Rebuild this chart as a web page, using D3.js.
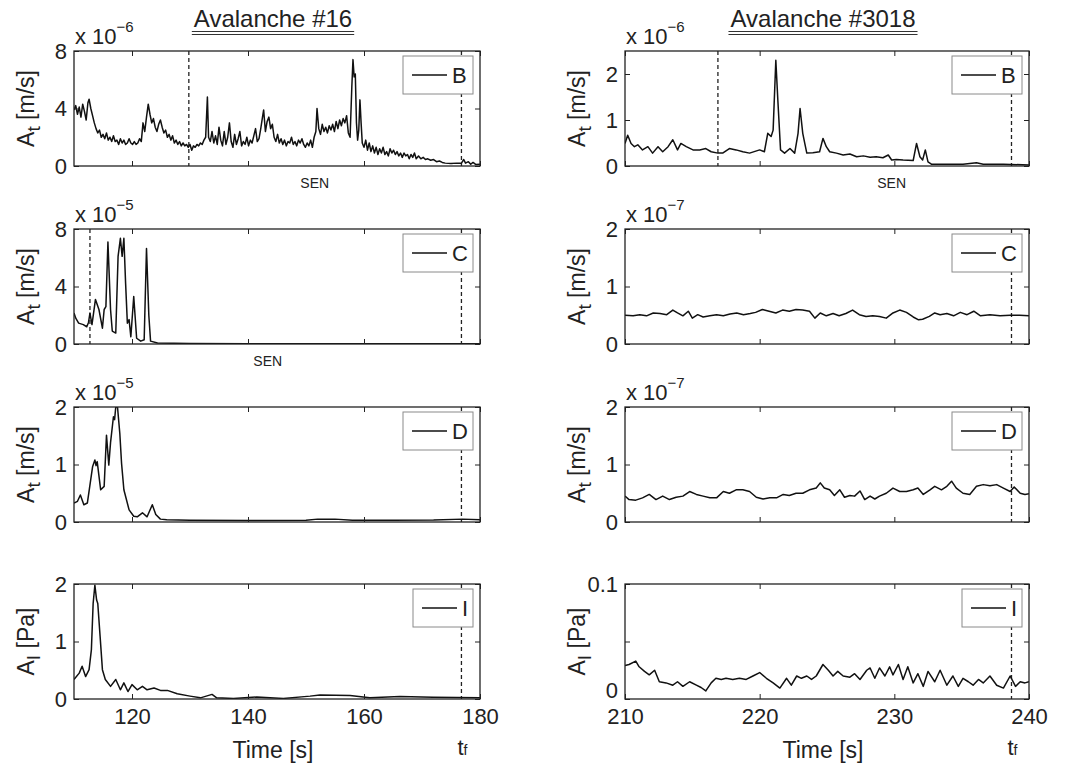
<!DOCTYPE html>
<html>
<head>
<meta charset="utf-8">
<script src="https://cdn.jsdelivr.net/npm/d3@7"></script>
<style>
  body { margin: 0; background: #fff; }
  svg { font-family: "Liberation Sans", Arial, Helvetica, sans-serif; }
</style>
</head>
<body>
<svg id="chart" width="1073" height="772"></svg>
<script>
// ---- data ----
// [time (s), amplitude in the unit shown on the axis]
const b16 = [[110,3.9],[110.3,4.2],[110.6,3.6],[110.9,4.1],[111.2,3.4],[111.5,4.3],[111.8,3.8],[112.1,3.2],[112.4,4.4],[112.6,4.65],[112.9,4.0],[113.2,3.5],[113.5,3.0],[113.8,2.6],[114.1,2.3],[114.4,2.5],[114.7,2.0],[115,2.2],[115.3,1.9],[115.6,2.3],[115.9,1.8],[116.2,2.0],[116.5,1.7],[116.8,2.1],[117.1,1.7],[117.4,1.8],[117.7,1.5],[118,1.9],[118.3,1.6],[118.6,1.8],[118.9,1.5],[119.2,1.6],[119.5,1.9],[119.8,1.6],[120.1,1.5],[120.4,1.7],[120.7,1.5],[121,1.6],[121.3,1.9],[121.6,1.7],[121.9,3.0],[122.2,2.4],[122.5,3.4],[122.8,4.3],[123.1,3.6],[123.4,3.0],[123.7,3.3],[124,2.7],[124.3,2.4],[124.6,2.9],[124.9,3.2],[125.2,2.7],[125.5,2.3],[125.8,2.5],[126.1,2.0],[126.4,2.2],[126.7,1.8],[127,2.1],[127.3,1.6],[127.6,1.8],[127.9,1.5],[128.2,1.7],[128.5,1.4],[128.8,1.6],[129.1,1.4],[129.4,1.5],[129.7,1.3],[130,1.5],[130.3,1.1],[130.6,1.4],[130.9,1.3],[131.2,1.5],[131.5,1.4],[131.8,1.6],[132.1,1.5],[132.4,1.8],[132.7,2.0],[133,4.8],[133.2,2.0],[133.5,1.7],[133.8,2.4],[134.1,1.6],[134.4,2.1],[134.7,1.5],[135,2.7],[135.3,1.8],[135.6,1.4],[135.9,2.4],[136.2,1.5],[136.5,2.0],[136.8,3.0],[137.1,1.7],[137.4,1.3],[137.7,2.2],[138,1.5],[138.3,1.9],[138.6,2.4],[138.9,1.4],[139.2,1.7],[139.5,1.5],[139.8,2.0],[140.1,1.4],[140.4,1.8],[140.7,1.6],[141,2.1],[141.3,2.6],[141.6,1.7],[141.9,1.9],[142.2,2.6],[142.5,3.4],[142.7,3.9],[143,2.4],[143.3,3.1],[143.6,3.4],[143.9,2.6],[144.2,2.9],[144.5,2.0],[144.8,1.7],[145.1,2.2],[145.4,1.6],[145.7,1.9],[146,1.5],[146.3,1.8],[146.6,1.4],[146.9,1.7],[147.2,1.6],[147.5,2.0],[147.8,1.5],[148.1,1.7],[148.4,1.4],[148.7,1.8],[149,1.6],[149.3,1.9],[149.6,1.5],[149.9,1.3],[150.2,1.6],[150.5,1.4],[150.8,1.8],[151.1,1.3],[151.4,2.0],[151.7,2.4],[151.9,4.0],[152.2,2.6],[152.5,2.2],[152.8,2.9],[153.1,2.4],[153.4,2.7],[153.7,2.3],[154,2.8],[154.3,2.5],[154.6,2.9],[154.9,2.4],[155.2,3.1],[155.5,2.6],[155.8,3.2],[156.1,2.8],[156.4,3.3],[156.7,3.0],[157,3.5],[157.3,2.3],[157.6,2.0],[157.9,5.5],[158.1,7.4],[158.3,6.2],[158.5,6.4],[158.7,3.0],[158.9,1.8],[159.1,2.5],[159.3,4.6],[159.5,3.0],[159.7,1.6],[160,1.3],[160.3,1.8],[160.6,1.1],[160.9,1.6],[161.2,1.0],[161.5,1.4],[161.8,0.9],[162.1,1.3],[162.4,0.8],[162.7,1.2],[163,0.9],[163.3,1.3],[163.6,0.8],[163.9,1.0],[164.2,0.7],[164.5,1.2],[164.8,0.9],[165.1,1.1],[165.4,0.8],[165.7,1.0],[166,0.7],[166.3,0.9],[166.6,0.6],[166.9,0.9],[167.2,0.7],[167.5,0.8],[167.8,0.5],[168.1,0.8],[168.4,0.6],[168.7,0.9],[169,0.5],[169.4,0.7],[169.8,0.5],[170.2,0.6],[170.6,0.45],[171,0.5],[171.5,0.4],[172,0.45],[172.5,0.3],[173,0.35],[173.5,0.25],[174,0.2],[175,0.18],[176,0.2],[176.8,0.2],[177.2,0.45],[177.5,0.2],[178,0.3],[178.4,0.12],[178.8,0.25],[179.3,0.1],[180,0.12]];
const c16 = [[110,2.15],[110.3,1.8],[110.8,1.45],[111.6,1.35],[112.2,1.2],[112.5,1.5],[112.75,2.15],[113.1,1.35],[113.7,3.1],[114.3,2.4],[114.9,1.1],[115.2,2.4],[115.5,2.6],[115.85,7.1],[116.3,2.4],[116.6,0.9],[117.2,0.76],[117.6,6.1],[118,7.35],[118.3,6.1],[118.6,7.35],[118.9,4.2],[119.2,1.45],[119.5,1.7],[119.8,0.5],[120.3,3.3],[120.8,0.4],[121.5,0.2],[122.1,0.3],[122.5,6.65],[122.9,2.0],[123.2,0.2],[124.4,0.07],[127.2,0.05],[130,0.03],[140,0.02],[150,0.02],[160,0.015],[170,0.02],[180,0.02]];
const d16 = [[110,0.33],[110.6,0.36],[111.1,0.47],[111.7,0.3],[112.3,0.33],[113.2,0.96],[113.6,1.08],[113.8,0.98],[114,1.05],[114.6,0.56],[115.2,0.62],[115.6,1.51],[116,0.99],[116.3,1.38],[116.8,1.83],[117,1.78],[117.2,2.0],[117.5,2.0],[117.9,1.54],[118.2,1.02],[118.6,0.56],[119.5,0.21],[120.3,0.1],[120.9,0.09],[121.8,0.16],[122.6,0.09],[123.5,0.3],[124.1,0.13],[124.9,0.05],[126,0.04],[130,0.03],[140,0.025],[150,0.03],[152,0.05],[155,0.05],[158,0.03],[165,0.03],[172,0.035],[177,0.05],[180,0.04]];
const i16 = [[110,0.34],[110.9,0.45],[111.4,0.57],[112,0.39],[112.6,0.51],[113,0.86],[113.3,1.66],[113.6,1.98],[113.9,1.72],[114.1,1.66],[114.5,1.09],[114.9,0.51],[115.4,0.34],[116.3,0.22],[117.2,0.34],[118,0.16],[118.6,0.28],[119.3,0.13],[120,0.25],[120.9,0.16],[121.8,0.22],[122.6,0.16],[123.8,0.19],[124.9,0.15],[126.1,0.15],[127.8,0.09],[130,0.05],[131.8,0.02],[133.8,0.08],[134.6,0.02],[137.5,0.01],[141.5,0.035],[146.1,0.01],[150.7,0.05],[152.4,0.07],[157.6,0.06],[161,0.02],[166.2,0.045],[171.9,0.03],[180,0.02]];

const b3018 = [[210,0.49],[210.2,0.67],[210.45,0.49],[210.7,0.42],[210.95,0.46],[211.3,0.35],[211.7,0.42],[212.05,0.28],[212.45,0.42],[212.8,0.31],[213.2,0.42],[213.55,0.57],[213.9,0.35],[214.15,0.49],[214.55,0.42],[215.05,0.35],[215.55,0.35],[216,0.38],[216.4,0.31],[216.9,0.28],[217.25,0.28],[217.75,0.38],[218.25,0.35],[218.75,0.31],[219.25,0.28],[220,0.35],[220.35,0.31],[220.6,0.71],[220.85,0.64],[221,0.78],[221.2,2.3],[221.35,1.43],[221.55,0.35],[221.85,0.28],[222.25,0.38],[222.6,0.28],[222.85,0.71],[223,1.25],[223.2,0.71],[223.35,0.49],[223.5,0.28],[223.95,0.29],[224.45,0.31],[224.7,0.6],[224.95,0.42],[225.2,0.31],[225.7,0.28],[226.2,0.24],[226.7,0.26],[227.2,0.2],[227.7,0.22],[228.2,0.19],[228.65,0.2],[229.15,0.18],[229.55,0.24],[229.8,0.13],[230.15,0.14],[230.65,0.13],[231.4,0.12],[231.65,0.49],[231.9,0.2],[232.1,0.13],[232.3,0.35],[232.5,0.09],[232.75,0.04],[233.9,0.04],[235.1,0.04],[236.1,0.07],[236.6,0.04],[238.1,0.04],[240,0.02]];
const c3018 = [[210,0.5],[210.6,0.49],[211.1,0.51],[211.6,0.49],[212.1,0.54],[212.6,0.53],[213.1,0.51],[213.55,0.59],[213.9,0.54],[214.3,0.49],[214.7,0.57],[215,0.45],[215.4,0.51],[215.8,0.47],[216.3,0.49],[216.8,0.51],[217.3,0.49],[217.8,0.52],[218.3,0.54],[218.8,0.51],[219.3,0.53],[219.7,0.55],[220.2,0.6],[220.7,0.57],[221.2,0.54],[221.7,0.59],[222.2,0.57],[222.7,0.6],[223.2,0.59],[223.7,0.57],[224.1,0.45],[224.5,0.54],[224.95,0.49],[225.45,0.53],[225.9,0.49],[226.4,0.53],[226.9,0.59],[227.4,0.51],[227.9,0.48],[228.4,0.49],[228.9,0.48],[229.4,0.45],[229.9,0.54],[230.4,0.59],[230.9,0.55],[231.4,0.47],[231.8,0.42],[232.1,0.43],[232.6,0.48],[233,0.54],[233.4,0.51],[233.9,0.53],[234.4,0.49],[234.9,0.55],[235.4,0.51],[235.9,0.57],[236.4,0.49],[237.1,0.51],[237.85,0.49],[238.6,0.5],[239.3,0.5],[240,0.49]];
const d3018 = [[210,0.45],[210.3,0.39],[210.8,0.38],[211.3,0.42],[211.8,0.48],[212.3,0.39],[212.8,0.45],[213.3,0.39],[213.8,0.43],[214.3,0.45],[214.8,0.53],[215.3,0.48],[215.8,0.45],[216.3,0.42],[216.8,0.42],[217.3,0.53],[217.75,0.5],[218.25,0.56],[218.75,0.56],[219.25,0.53],[219.75,0.43],[220.25,0.4],[220.75,0.42],[221.25,0.42],[221.75,0.48],[222.2,0.46],[222.7,0.5],[223.2,0.5],[223.7,0.56],[224.2,0.59],[224.5,0.68],[224.8,0.59],[225.2,0.56],[225.55,0.46],[225.95,0.56],[226.3,0.43],[226.7,0.46],[227.05,0.45],[227.45,0.54],[227.8,0.39],[228.2,0.45],[228.55,0.4],[228.9,0.45],[229.4,0.5],[229.9,0.59],[230.4,0.53],[230.9,0.53],[231.4,0.56],[231.75,0.59],[232.15,0.48],[232.65,0.56],[233,0.62],[233.5,0.56],[233.9,0.62],[234.25,0.71],[234.6,0.59],[235.1,0.5],[235.6,0.48],[236.1,0.62],[236.6,0.65],[237.1,0.63],[237.6,0.65],[238.1,0.59],[238.6,0.53],[238.9,0.61],[239.35,0.5],[239.7,0.48],[240,0.49]];
const i3018 = [[210,0.029],[210.3,0.03],[210.8,0.033],[211.05,0.028],[211.45,0.024],[211.8,0.021],[212.2,0.025],[212.55,0.015],[213.05,0.014],[213.55,0.012],[213.9,0.015],[214.3,0.011],[214.8,0.015],[215.3,0.012],[215.65,0.01],[216,0.007],[216.4,0.014],[216.75,0.018],[217.15,0.017],[217.5,0.018],[218,0.017],[218.5,0.018],[219,0.017],[219.5,0.02],[220,0.023],[220.5,0.018],[221,0.014],[221.5,0.0095],[222,0.018],[222.35,0.012],[222.75,0.02],[223.1,0.018],[223.5,0.02],[223.85,0.017],[224.2,0.02],[224.7,0.03],[225.1,0.025],[225.45,0.02],[225.8,0.024],[226.2,0.02],[226.7,0.019],[227.05,0.022],[227.45,0.017],[227.95,0.025],[228.2,0.027],[228.55,0.018],[228.9,0.027],[229.3,0.02],[229.65,0.028],[229.9,0.021],[230.3,0.03],[230.65,0.017],[231,0.028],[231.4,0.014],[231.75,0.022],[232.15,0.011],[232.5,0.024],[233,0.015],[233.4,0.025],[233.9,0.012],[234.35,0.02],[234.75,0.011],[235.1,0.018],[235.5,0.015],[235.85,0.012],[236.25,0.017],[236.6,0.014],[237.1,0.02],[237.6,0.012],[238.1,0.0095],[238.6,0.02],[239,0.011],[239.35,0.015],[239.7,0.014],[240,0.015]];

// axes / annotations
const titles = ["Avalanche #16", "Avalanche #3018"];
const timeDomain16 = [110, 180], timeDomain3018 = [210, 240];
const timeTicks16 = [120, 140, 160, 180], timeTicks3018 = [210, 220, 230, 240];
const tf16 = 176.8, tf3018 = 238.7;
const dashB16 = [129.8, tf16], dashC16 = [112.75, tf16], dashB3018 = [216.9, tf3018];
const senTimes = { b16: 151.5, c16: 143.4, b3018: 229.8 };

// ---- layout ----
const svg = d3.select("#chart");
const cols = [
  { x0: 74, x1: 480, domain: timeDomain16, ticks: timeTicks16, tf: tf16 },
  { x0: 625, x1: 1029, domain: timeDomain3018, ticks: timeTicks3018, tf: tf3018 }
];
const rowTops = [51, 229, 407, 584];
const ph = 115;

const panels = [
  { col: 0, row: 0, data: b16, yMax: 8, yTicks: [0, 4, 8], exp: "6", name: "B", dashes: dashB16, sen: senTimes.b16 },
  { col: 0, row: 1, data: c16, yMax: 8, yTicks: [0, 4, 8], exp: "5", name: "C", dashes: dashC16, sen: senTimes.c16 },
  { col: 0, row: 2, data: d16, yMax: 2, yTicks: [0, 1, 2], exp: "5", name: "D", dashes: [tf16] },
  { col: 0, row: 3, data: i16, yMax: 2, yTicks: [0, 1, 2], name: "I", dashes: [tf16], pa: true },
  { col: 1, row: 0, data: b3018, yMax: 2.5, yTicks: [0, 1, 2], exp: "6", name: "B", dashes: dashB3018, sen: senTimes.b3018 },
  { col: 1, row: 1, data: c3018, yMax: 2, yTicks: [0, 1, 2], exp: "7", name: "C", dashes: [tf3018] },
  { col: 1, row: 2, data: d3018, yMax: 2, yTicks: [0, 1, 2], exp: "7", name: "D", dashes: [tf3018] },
  { col: 1, row: 3, data: i3018, yMax: 0.1, yTicks: [0, 0.05, 0.1], name: "I", dashes: [tf3018], pa: true, hideMid: true }
];

const tickFont = 22;

panels.forEach((p, k) => {
  const c = cols[p.col];
  const top = rowTops[p.row], bot = top + ph;
  const x = d3.scaleLinear().domain(c.domain).range([c.x0, c.x1]);
  const y = d3.scaleLinear().domain([0, p.yMax]).range([bot, top]);
  const g = svg.append("g");

  g.append("clipPath").attr("id", "clip" + k)
    .append("rect").attr("x", c.x0).attr("y", top).attr("width", c.x1 - c.x0).attr("height", ph);

  // dashed marker lines
  g.selectAll(".dash").data(p.dashes).join("line")
    .attr("x1", d => x(d)).attr("x2", d => x(d))
    .attr("y1", top).attr("y2", bot)
    .attr("stroke", "#222").attr("stroke-width", 1.3)
    .attr("stroke-dasharray", "4,3");

  // signal
  g.append("path")
    .datum(p.data)
    .attr("clip-path", `url(#clip${k})`)
    .attr("fill", "none")
    .attr("stroke", "#111")
    .attr("stroke-width", 1.5)
    .attr("stroke-linejoin", "round")
    .attr("d", d3.line().x(d => x(d[0])).y(d => y(d[1])));

  // axes with inward ticks on all four sides
  const last = p.row === 3;
  const fmtY = d => (p.hideMid && d === 0.05) ? "" : d3.format("~g")(d);
  const left = g.append("g").attr("transform", `translate(${c.x0},0)`)
    .call(d3.axisLeft(y).tickValues(p.yTicks).tickSizeInner(-5).tickSizeOuter(0).tickPadding(7).tickFormat(fmtY));
  const right = g.append("g").attr("transform", `translate(${c.x1},0)`)
    .call(d3.axisRight(y).tickValues(p.yTicks).tickSizeInner(-5).tickSizeOuter(0).tickFormat(""));
  const bottom = g.append("g").attr("transform", `translate(0,${bot})`)
    .call(d3.axisBottom(x).tickValues(c.ticks).tickSizeInner(-5).tickSizeOuter(0).tickPadding(9)
      .tickFormat(last ? d3.format("d") : ""));
  const topAx = g.append("g").attr("transform", `translate(0,${top})`)
    .call(d3.axisTop(x).tickValues(c.ticks).tickSizeInner(-5).tickSizeOuter(0).tickFormat(""));
  [left, right, bottom, topAx].forEach(a => {
    a.select(".domain").remove();
    a.selectAll("line").attr("stroke", "#222");
    a.selectAll("text").attr("font-size", tickFont).attr("fill", "#222").attr("font-family", null);
  });
  // the 0 of the lowest right panel sits just above the 210 label
  if (p.hideMid) left.selectAll(".tick text").filter(d => d === 0).attr("dy", "-0.05em");

  g.append("rect")
    .attr("x", c.x0).attr("y", top).attr("width", c.x1 - c.x0).attr("height", ph)
    .attr("fill", "none").attr("stroke", "#222").attr("stroke-width", 1.3);

  // exponent label
  if (p.exp) {
    const t = g.append("text").attr("x", c.x0 + 1).attr("y", top - 7)
      .attr("font-size", 22).attr("fill", "#222").text("x 10");
    t.append("tspan").attr("dy", -12).attr("font-size", 15).text("\u2212" + p.exp);
  }

  // y label
  const yl = g.append("text")
    .attr("transform", `translate(${c.x0 - 40},${top + ph / 2}) rotate(-90)`)
    .attr("text-anchor", "middle").attr("font-size", 23).attr("fill", "#222");
  yl.append("tspan").text("A");
  yl.append("tspan").attr("dy", 6).attr("font-size", 19).text(p.pa ? "I" : "t");
  yl.append("tspan").attr("dy", -6).text(p.pa ? " [Pa]" : " [m/s]");

  // legend
  const lw = p.name === "I" ? 60 : 70, lh = 38;
  const lx = c.x1 - 7 - lw, ly = top + 5;
  const lg = g.append("g").attr("transform", `translate(${lx},${ly})`);
  lg.append("rect").attr("width", lw).attr("height", lh)
    .attr("fill", "#fff").attr("stroke", "#8a8a8a").attr("stroke-width", 1);
  lg.append("line").attr("x1", 9).attr("x2", 44).attr("y1", lh / 2).attr("y2", lh / 2)
    .attr("stroke", "#111").attr("stroke-width", 1.3);
  lg.append("text").attr("x", 49).attr("y", lh / 2 + 8)
    .attr("font-size", 22).attr("fill", "#222").text(p.name);

  // SEN annotation
  if (p.sen) {
    g.append("text").attr("x", x(p.sen)).attr("y", bot + 22)
      .attr("text-anchor", "middle").attr("font-size", 14).attr("fill", "#222").text("SEN");
  }

  if (last) {
    g.append("text").attr("x", (c.x0 + c.x1) / 2 - 4).attr("y", 758)
      .attr("text-anchor", "middle").attr("font-size", 23).attr("fill", "#222").text("Time [s]");
    const tf = g.append("text").attr("x", x(c.tf) - 4).attr("y", 755)
      .attr("font-size", 22).attr("fill", "#222").text("t");
    tf.append("tspan").attr("font-size", 14).text("f");
  }
});

// column titles with double underline
cols.forEach((c, i) => {
  const cx = (c.x0 + c.x1) / 2 - 4;
  const t = svg.append("text").attr("x", cx).attr("y", 27)
    .attr("text-anchor", "middle").attr("font-size", 24).attr("fill", "#222").text(titles[i]);
  const w = t.node().getComputedTextLength();
  [31.5, 34.5].forEach(yy => {
    svg.append("line").attr("x1", cx - w / 2 - 2).attr("x2", cx + w / 2 + 2)
      .attr("y1", yy).attr("y2", yy).attr("stroke", "#333").attr("stroke-width", 1.1);
  });
});
</script>
</body>
</html>
